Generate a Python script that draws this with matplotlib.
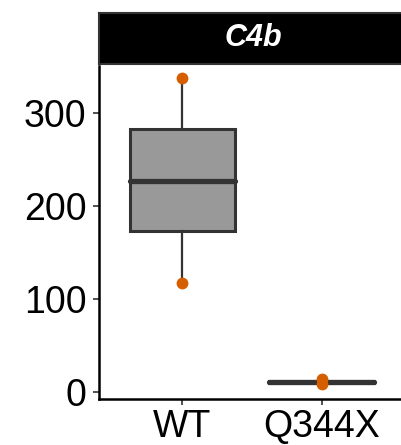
import matplotlib
matplotlib.use("Agg")
import matplotlib.pyplot as plt

plt.rcParams['font.family'] = ['Liberation Sans', 'DejaVu Sans']

categories = ["WT", "Q344X"]
q1 = [173, 10]
median = [227, 11]
q3 = [282, 12]
whislo = [117, 9]
whishi = [337, 14]
points = [[337, 117], [14, 9]]
title = "C4b"
yticks = [0, 100, 200, 300]

fig = plt.figure(figsize=(4.02, 4.45), dpi=100)
ax = fig.add_axes([99/402, 1-399/445, 306/402, (399-66)/445])

stats = []
for i, c in enumerate(categories):
    stats.append(dict(label=c, q1=q1[i], med=median[i], q3=q3[i],
                      whislo=whislo[i], whishi=whishi[i], fliers=[]))
positions = list(range(1, len(categories)+1))
ax.bxp(stats, positions=positions, widths=0.76, patch_artist=True, showcaps=False,
       boxprops=dict(facecolor="#999999", edgecolor="#333333", linewidth=2.2),
       medianprops=dict(color="#333333", linewidth=3.8, solid_capstyle='round'),
       whiskerprops=dict(color="#333333", linewidth=1.6))
for p, vals in zip(positions, points):
    ax.plot([p]*len(vals), vals, 'o', color="#D55E00", markersize=8.5, zorder=5, markeredgewidth=0)

ax.set_xlim(0.4, 2.6)
ax.set_ylim(-7.5, 350)
ax.set_xticks(positions)
ax.set_xticklabels(categories)
ax.set_yticks(yticks)
ax.tick_params(labelsize=27, labelcolor='black', color='#333333', width=1.2, length=4)
ax.tick_params(axis='y', pad=5)
ax.tick_params(axis='x', pad=3)
for s in ['top', 'right']:
    ax.spines[s].set_visible(False)
for s in ['left', 'bottom']:
    ax.spines[s].set_linewidth(1.8)
    ax.spines[s].set_color('black')

# strip
sax = fig.add_axes([99/402, 1-64/445, 306/402, 51/445])
sax.set_xticks([]); sax.set_yticks([])
sax.set_facecolor('black')
for s in sax.spines.values():
    s.set_color('#333333'); s.set_linewidth(1.5)
sax.text(0.505, 0.5, title, transform=sax.transAxes, ha='center', va='center',
         color='white', fontsize=22, fontweight='bold', fontstyle='italic')

fig.savefig("out.png", dpi=100)
